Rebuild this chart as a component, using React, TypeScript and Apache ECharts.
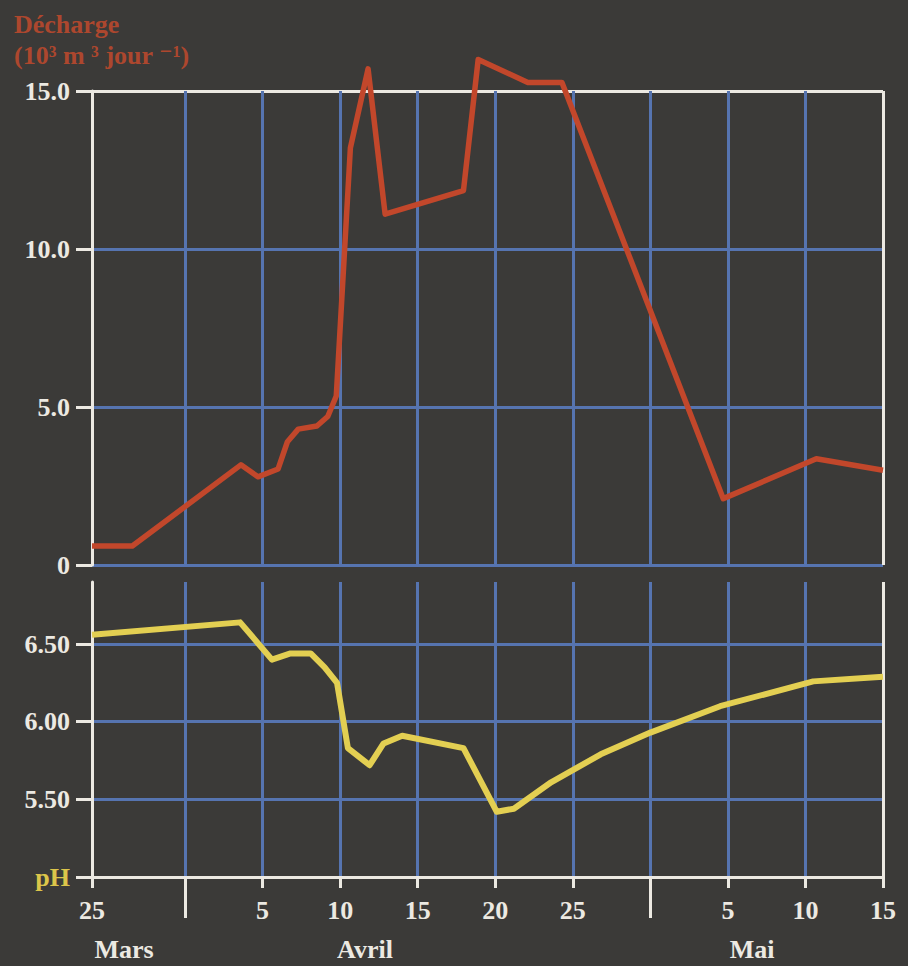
import React, { useEffect, useRef } from 'react';
import * as echarts from 'echarts';

// x = days since 25 Mars (0) ... 15 Mai (51)
const CATEGORY_DAYS = Array.from({ length: 52 }, (_, i) => String(i));
const TICK_DAYS = [0, 11, 16, 21, 26, 31, 41, 46, 51];
const TICK_LABELS = ['25', '5', '10', '15', '20', '25', '5', '10', '15'];
const MONTH_SEPARATOR_DAYS = [6, 36];
const GRID_DAYS = [6, 11, 16, 21, 26, 31, 36, 41, 46];
const MONTHS = ['Mars', 'Avril', 'Mai'];

const DISCHARGE_TICKS = [0, 5, 10, 15];
const DISCHARGE_TICK_LABELS = ['0', '5.0', '10.0', '15.0'];
const PH_TICKS = [5, 5.5, 6, 6.5];
const PH_TICK_LABELS = ['pH', '5.50', '6.00', '6.50'];

const DISCHARGE_DAYS = [0, 2.6, 9.6, 10.7, 12.0, 12.6, 13.3, 14.5, 15.2, 15.75, 16.66, 17.8, 18.9, 23.95, 24.9, 28.1, 30.3, 40.7, 46.7, 51];
const DISCHARGE = [0.6, 0.6, 3.17, 2.79, 3.04, 3.9, 4.3, 4.4, 4.7, 5.35, 13.2, 15.7, 11.1, 11.85, 16.0, 15.27, 15.27, 2.1, 3.36, 3.0];

const PH_DAYS = [0, 9.55, 11.6, 12.8, 14.1, 15.0, 15.8, 16.5, 17.9, 18.8, 20.0, 23.95, 26.1, 27.2, 29.6, 32.8, 36.0, 40.5, 46.5, 51];
const PH = [6.56, 6.64, 6.4, 6.44, 6.44, 6.35, 6.25, 5.83, 5.72, 5.86, 5.91, 5.83, 5.42, 5.44, 5.61, 5.79, 5.93, 6.1, 6.26, 6.29];

const BG = '#3b3a38';
const BLUE = '#5674b0';
const WHITE = '#ece9e2';
const RED = '#c2472b';
const YELLOW = '#e3cf52';
const TITLE_RED = '#ad472e';
const PH_YELLOW = '#dcc54a';
const FONT = '"Liberation Serif", "DejaVu Serif", serif';
const NONE = 'rgba(0,0,0,0)';

const xSplitColors = CATEGORY_DAYS.map((_, i) =>
  GRID_DAYS.includes(i) ? BLUE : i === 51 ? WHITE : NONE
);

const labelStyle = {
  color: WHITE,
  fontSize: 26,
  fontWeight: 'bold' as const,
  fontFamily: FONT,
};

function buildOption() {
  return {
    animation: false,
    backgroundColor: BG,
    grid: [
      { left: 92, right: 25, top: 91, height: 474 },
      { left: 92, right: 25, top: 582, height: 295 },
    ],
    xAxis: [
      {
        type: 'value', gridIndex: 0, min: 0, max: 51, interval: 1,
        axisLine: { show: false }, axisTick: { show: false }, axisLabel: { show: false },
        splitLine: { show: true, lineStyle: { color: xSplitColors, width: 3 } },
      },
      {
        type: 'value', gridIndex: 1, min: 0, max: 51, interval: 1,
        axisLine: { show: true, lineStyle: { color: WHITE, width: 3 } },
        axisTick: { show: false }, axisLabel: { show: false },
        splitLine: { show: true, lineStyle: { color: xSplitColors, width: 3 } },
      },
      {
        type: 'category', gridIndex: 1, data: CATEGORY_DAYS, boundaryGap: false, position: 'bottom',
        axisLine: { show: false },
        axisTick: {
          show: true, length: 11, interval: (i: number) => TICK_DAYS.includes(i),
          lineStyle: { color: WHITE, width: 3 },
        },
        axisLabel: {
          ...labelStyle, margin: 20,
          interval: (i: number) => TICK_DAYS.includes(i),
          formatter: (v: string) => {
            const k = TICK_DAYS.indexOf(Number(v));
            return k >= 0 ? TICK_LABELS[k] : '';
          },
        },
        splitLine: { show: false },
      },
      {
        type: 'category', gridIndex: 1, data: CATEGORY_DAYS, boundaryGap: false, position: 'bottom',
        axisLine: { show: false },
        axisTick: {
          show: true, length: 41, interval: (i: number) => MONTH_SEPARATOR_DAYS.includes(i),
          lineStyle: { color: WHITE, width: 3 },
        },
        axisLabel: { show: false },
        splitLine: { show: false },
      },
    ],
    yAxis: [
      {
        type: 'value', gridIndex: 0, min: 0, max: 15, interval: 5,
        axisLine: { show: true, lineStyle: { color: WHITE, width: 3 } },
        axisTick: { show: true, length: 16, lineStyle: { color: WHITE, width: 3 } },
        axisLabel: {
          ...labelStyle, margin: 22,
          formatter: (v: number) => {
            const k = DISCHARGE_TICKS.indexOf(v);
            return k >= 0 ? DISCHARGE_TICK_LABELS[k] : '';
          },
        },
        splitLine: { show: true, lineStyle: { color: [BLUE, BLUE, BLUE, WHITE], width: 3 } },
      },
      {
        type: 'value', gridIndex: 1, min: 5, max: 6.9, interval: 0.5,
        axisLine: { show: true, lineStyle: { color: WHITE, width: 3 } },
        axisTick: { show: true, length: 16, customValues: PH_TICKS, lineStyle: { color: WHITE, width: 3 } },
        axisLabel: {
          ...labelStyle, margin: 22, customValues: PH_TICKS,
          formatter: (v: number) => {
            const k = PH_TICKS.findIndex((t) => Math.abs(t - v) < 1e-6);
            if (k < 0) return '';
            return k === 0 ? '{ph|' + PH_TICK_LABELS[k] + '}' : PH_TICK_LABELS[k];
          },
          rich: {
            ph: { color: PH_YELLOW, fontSize: 26, fontWeight: 'bold', fontFamily: FONT },
          },
        },
        splitLine: { show: true, lineStyle: { color: [NONE, BLUE, BLUE, BLUE, NONE], width: 3 } },
      },
    ],
    series: [
      {
        type: 'line', xAxisIndex: 0, yAxisIndex: 0, clip: false,
        data: DISCHARGE_DAYS.map((d, i) => [d, DISCHARGE[i]]),
        symbol: 'none', lineStyle: { color: RED, width: 5.5, join: 'round' }, z: 5,
      },
      {
        type: 'line', xAxisIndex: 1, yAxisIndex: 1, clip: false,
        data: PH_DAYS.map((d, i) => [d, PH[i]]),
        symbol: 'none', lineStyle: { color: YELLOW, width: 6, join: 'round' }, z: 5,
      },
    ],
    graphic: [
      {
        type: 'text', left: 14, top: 9,
        style: {
          text: 'Décharge\n(10³ m ³ jour ⁻¹)', fill: TITLE_RED,
          font: 'bold 26px ' + FONT, lineHeight: 31,
        },
      },
      ...MONTHS.map((m, i) => ({
        type: 'text',
        x: [124, 365, 752][i], y: 962,
        style: {
          text: m, fill: WHITE, font: 'bold 26px ' + FONT,
          textAlign: 'center', textVerticalAlign: 'bottom', lineHeight: 26,
        },
      })),
    ],
  };
}

export default function App() {
  const ref = useRef<HTMLDivElement>(null);
  useEffect(() => {
    const chart = echarts.init(ref.current!, null, { renderer: 'svg' });
    chart.setOption(buildOption() as any);
    return () => chart.dispose();
  }, []);
  return (
    <div
      ref={ref}
      style={{ position: 'fixed', left: 0, top: 0, width: 908, height: 966 }}
    />
  );
}
